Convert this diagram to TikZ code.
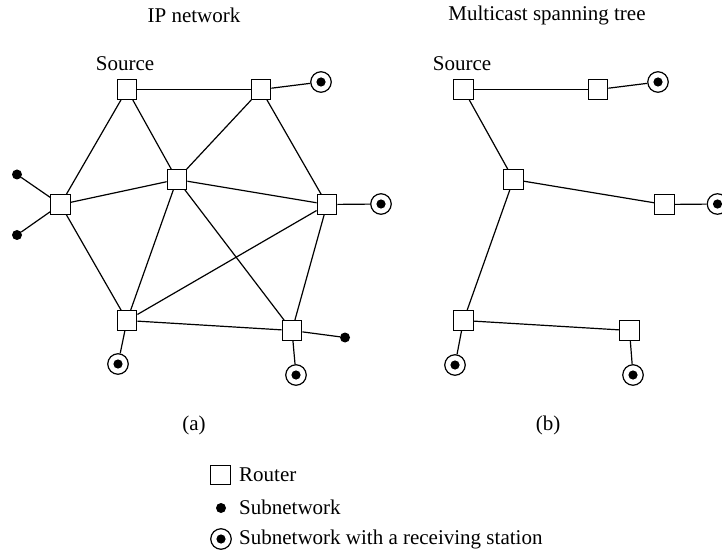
\documentclass[tikz,border=0pt]{standalone}
\usepackage{fontspec}
\setmainfont{Liberation Serif}
\begin{document}
\begin{tikzpicture}[x=1pt,y=-1pt,
  every node/.style={font=\fontsize{21}{25}\selectfont},
  router/.style={draw, rectangle, minimum size=19.5pt, inner sep=0pt, line width=1.3pt, fill=white},
  subnet/.style={circle, fill, minimum size=10pt, inner sep=0pt},
  recv/.style={circle, draw, minimum size=20.5pt, inner sep=0pt, line width=1.2pt,
    path picture={\fill (path picture bounding box.center) circle (4.6pt);}},
  link/.style={line width=1.2pt},
  lbl/.style={inner sep=0pt}]
\useasboundingbox (0,0) rectangle (722,553);
% titles
\node[lbl] (ta) at (194,15) {IP network};
\node[lbl] (tb) at (547,15) {Multicast spanning tree};
% ---- (a) ----
\node[lbl] (srcA) at (125,64) {Source};
\node[router] (a1) at (127,89.5) {};
\node[router] (a2) at (261,89.5) {};
\node[router] (a3) at (177,179.5) {};
\node[router] (a4) at (60.5,204.5) {};
\node[router] (a5) at (327,204.5) {};
\node[router] (a6) at (127,320.5) {};
\node[router] (a7) at (292,330.5) {};
\node[recv] (ar2) at (321,82) {};
\node[recv] (ar5) at (381,204) {};
\node[recv] (ar6) at (118,364) {};
\node[recv] (ar7) at (296,375) {};
\node[subnet] (ad1) at (17,174.5) {};
\node[subnet] (ad2) at (17,235) {};
\node[subnet] (ad7) at (345,337.5) {};
\draw[link] (a1) -- (a2);
\draw[link] (a1) -- (a4);
\draw[link] (a1) -- (a3);
\draw[link] (a2) -- (a3);
\draw[link] (a2) -- (a5);
\draw[link] (a2) -- (ar2);
\draw[link] (a4) -- (a3);
\draw[link] (a3) -- (a5);
\draw[link] (a5) -- (ar5);
\draw[link] (a4) -- (a6);
\draw[link] (a3) -- (a6);
\draw[link] (a3) -- (a7);
\draw[link] (a5) -- (a6);
\draw[link] (a5) -- (a7);
\draw[link] (a6) -- (a7);
\draw[link] (a6) -- (ar6);
\draw[link] (a7) -- (ar7);
\draw[link] (a7) -- (ad7);
\draw[link] (a4) -- (ad1);
\draw[link] (a4) -- (ad2);
\node[lbl] (capa) at (194,425) {(a)};
% ---- (b) ----
\node[lbl] (srcB) at (462,64) {Source};
\node[router] (b1) at (463.5,89.5) {};
\node[router] (b2) at (598,89.5) {};
\node[router] (b3) at (513.5,179.5) {};
\node[router] (b5) at (664.5,204.5) {};
\node[router] (b6) at (463.5,320.5) {};
\node[router] (b7) at (629.5,330.5) {};
\node[recv] (br2) at (658,82) {};
\node[recv] (br5) at (717.5,204) {};
\node[recv] (br6) at (455,365) {};
\node[recv] (br7) at (633,375) {};
\draw[link] (b1) -- (b2);
\draw[link] (b2) -- (br2);
\draw[link] (b1) -- (b3);
\draw[link] (b3) -- (b5);
\draw[link] (b5) -- (br5);
\draw[link] (b3) -- (b6);
\draw[link] (b6) -- (b7);
\draw[link] (b6) -- (br6);
\draw[link] (b7) -- (br7);
\node[lbl] (capb) at (548,425) {(b)};
% ---- legend ----
\node[router] (lr) at (220.5,475) {};
\node[subnet] (ld) at (221,508) {};
\node[recv] (lc) at (221,539) {};
\node[lbl, anchor=west] (tr) at (239,475) {Router};
\node[lbl, anchor=west] (ts) at (239,507) {Subnetwork};
\node[lbl, anchor=west] (tc) at (239,539) {Subnetwork with a receiving station};
\end{tikzpicture}
\end{document}
